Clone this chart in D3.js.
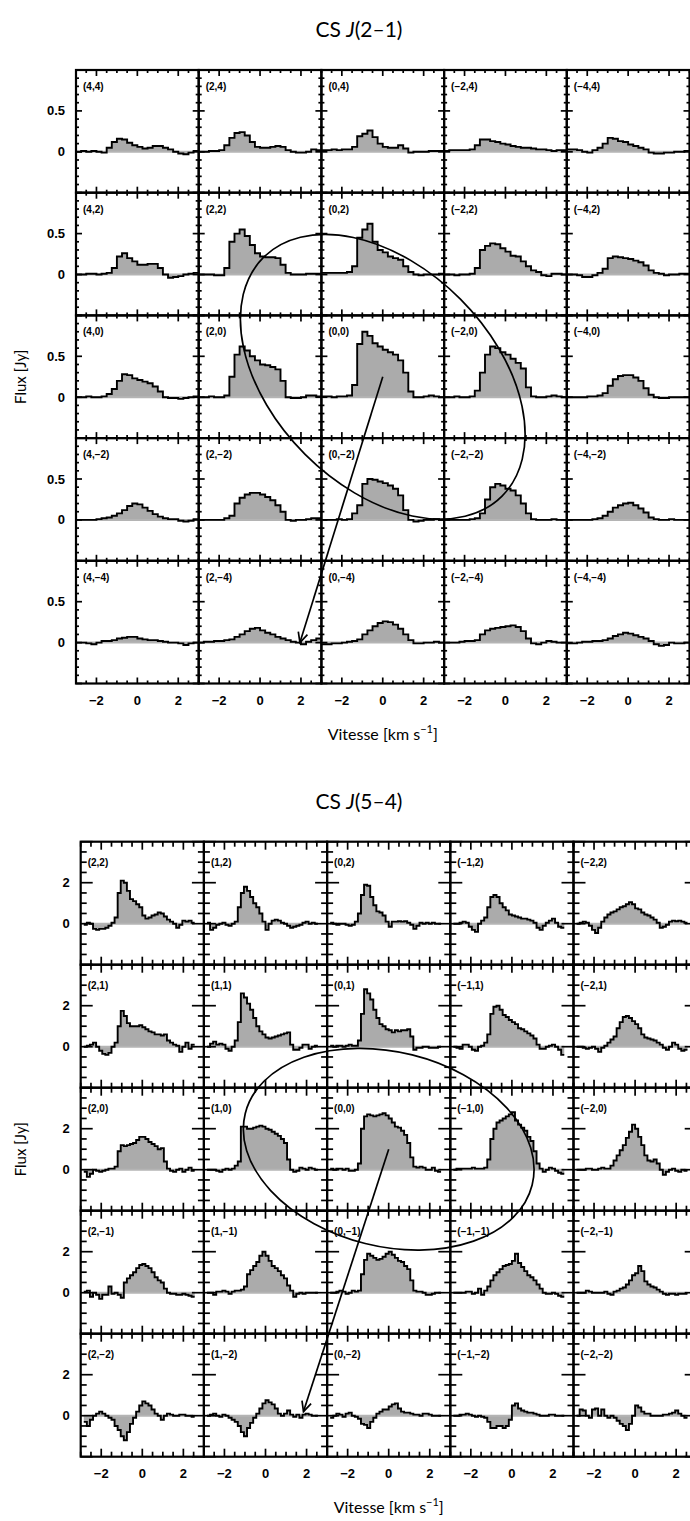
<!DOCTYPE html>
<html><head><meta charset="utf-8">
<script src="https://cdn.jsdelivr.net/npm/d3@7/dist/d3.min.js"></script>
<style>body{margin:0;background:#fff}svg{display:block}</style>
</head><body>
<svg id="c" width="690" height="1521"></svg>
<script>
// ---------------- DATA ----------------
// map offsets of the panels (columns: x offset, rows: y offset)
const offX21 = [4, 2, 0, -2, -4];
const offY21 = [4, 2, 0, -2, -4];
const offX54 = [2, 1, 0, -1, -2];
const offY54 = [2, 1, 0, -1, -2];
// velocity channels
const v0_21 = -3, dv21 = 0.25;     // 24 channels
const v0_54 = -2.85, dv54 = 0.15;  // 36 channels
// tick labels
const xTickLabels = [-2, 0, 2];
const yTickLabels21 = [0, 0.5];
const yTickLabels54 = [0, 2];

// CS J(2-1) spectra (Jy), one row of the map per array, columns ordered as offX21
const cs21_y4 = [
  [0.0,0.01,0.0,0.01,0.0,-0.01,0.05,0.12,0.16,0.15,0.11,0.08,0.06,0.04,0.05,0.07,0.07,0.05,0.03,0.0,-0.02,-0.03,-0.01,0.01],
  [0.0,0.0,0.01,0.01,0.02,0.08,0.17,0.23,0.24,0.2,0.12,0.06,0.05,0.05,0.06,0.07,0.06,0.02,0.0,-0.01,-0.01,0.0,0.03,0.02],
  [0.02,0.02,0.03,0.02,0.03,0.03,0.06,0.19,0.22,0.26,0.18,0.1,0.06,0.05,0.05,0.08,0.04,-0.01,0.0,0.0,0.0,0.01,0.01,0.01],
  [0.01,0.02,0.02,0.02,0.02,0.03,0.08,0.15,0.15,0.13,0.12,0.1,0.09,0.07,0.06,0.05,0.05,0.04,0.03,0.03,0.02,0.01,0.02,0.02],
  [0.03,0.03,0.02,0.0,-0.01,0.02,0.05,0.1,0.17,0.16,0.13,0.12,0.09,0.07,0.05,0.03,-0.01,-0.02,-0.02,-0.01,-0.01,0.0,0.0,0.01]
];
const cs21_y2 = [
  [0.0,0.0,0.01,0.01,0.0,0.01,0.02,0.08,0.22,0.26,0.2,0.16,0.12,0.12,0.13,0.13,0.08,0.0,-0.04,-0.03,-0.02,0.0,0.01,0.02],
  [0.0,0.0,0.0,-0.01,-0.01,0.08,0.4,0.5,0.55,0.47,0.36,0.26,0.22,0.21,0.21,0.2,0.12,0.02,0.0,0.0,0.0,0.01,0.01,0.01],
  [0.02,0.02,0.02,0.02,0.02,0.03,0.1,0.45,0.55,0.62,0.4,0.3,0.27,0.22,0.2,0.18,0.1,0.03,0.0,-0.01,0.0,0.0,0.0,0.01],
  [0.0,0.0,-0.01,0.0,0.0,0.01,0.08,0.3,0.35,0.38,0.37,0.32,0.28,0.23,0.22,0.16,0.1,0.05,0.03,-0.01,-0.02,0.01,0.01,0.0],
  [0.0,0.0,-0.01,-0.03,-0.03,-0.01,0.02,0.07,0.2,0.22,0.21,0.2,0.19,0.17,0.15,0.11,0.05,0.02,0.01,-0.01,0.0,0.0,0.01,0.01]
];
const cs21_y0 = [
  [0.0,0.0,0.01,0.0,0.0,0.01,0.04,0.1,0.2,0.28,0.27,0.23,0.21,0.19,0.17,0.13,0.07,0.0,-0.01,-0.01,-0.02,-0.01,0.0,0.01],
  [0.0,0.0,0.01,0.0,0.0,0.02,0.25,0.52,0.62,0.57,0.5,0.45,0.4,0.39,0.37,0.34,0.2,0.0,-0.01,-0.01,0.0,0.02,0.02,0.01],
  [0.01,0.01,0.0,0.01,0.01,0.02,0.15,0.65,0.8,0.75,0.66,0.62,0.58,0.55,0.52,0.45,0.3,0.07,0.0,0.0,0.01,0.02,0.01,0.0],
  [0.0,0.0,0.01,0.0,0.0,0.01,0.08,0.3,0.52,0.62,0.6,0.55,0.52,0.47,0.42,0.35,0.12,0.01,0.0,0.0,0.01,0.02,0.01,0.0],
  [0.0,0.0,0.0,0.0,0.01,0.01,0.02,0.05,0.14,0.22,0.26,0.27,0.27,0.24,0.2,0.11,0.03,0.0,-0.01,-0.01,0.0,0.0,0.0,0.0]
];
const cs21_ym2 = [
  [0.0,0.0,0.0,0.0,0.01,0.02,0.03,0.05,0.08,0.12,0.17,0.2,0.19,0.15,0.11,0.07,0.04,0.02,0.01,0.01,-0.01,-0.02,-0.01,0.01],
  [0.0,0.0,0.0,0.0,0.0,0.02,0.05,0.2,0.27,0.31,0.33,0.33,0.31,0.28,0.24,0.18,0.1,0.0,-0.01,0.0,0.0,0.01,0.02,0.02],
  [0.0,0.0,0.0,0.01,0.0,0.01,0.08,0.18,0.44,0.5,0.49,0.47,0.45,0.42,0.38,0.3,0.12,0.0,-0.02,-0.01,0.0,0.0,0.01,0.0],
  [0.0,0.0,0.0,0.0,0.0,0.01,0.02,0.08,0.25,0.4,0.44,0.42,0.38,0.36,0.3,0.2,0.08,0.01,0.0,0.0,0.0,0.01,0.0,0.0],
  [0.0,0.0,0.0,0.0,0.0,0.01,0.02,0.05,0.1,0.15,0.18,0.2,0.21,0.18,0.14,0.09,0.03,0.01,0.0,0.0,0.01,0.0,0.0,0.0]
];
const cs21_ym4 = [
  [0.0,0.0,-0.01,-0.02,0.0,0.02,0.02,0.03,0.05,0.06,0.07,0.07,0.05,0.04,0.03,0.03,0.02,0.01,0.0,0.0,-0.01,-0.03,-0.01,0.0],
  [0.0,0.01,0.01,0.02,0.02,0.03,0.04,0.07,0.1,0.14,0.17,0.18,0.15,0.12,0.1,0.07,0.05,0.03,0.01,0.0,-0.02,0.01,0.03,0.05],
  [-0.02,-0.02,-0.01,-0.01,0.0,0.01,0.02,0.04,0.1,0.15,0.2,0.24,0.26,0.25,0.22,0.17,0.1,0.03,-0.01,-0.01,0.0,0.0,0.01,0.0],
  [0.0,0.0,0.0,0.01,0.02,0.02,0.03,0.1,0.15,0.17,0.18,0.19,0.2,0.21,0.19,0.14,0.05,-0.01,-0.02,0.0,0.02,0.01,0.0,0.0],
  [-0.01,-0.01,0.0,0.01,0.01,0.02,0.02,0.03,0.05,0.08,0.1,0.12,0.11,0.09,0.07,0.05,0.02,-0.02,-0.04,-0.03,0.0,-0.01,-0.01,0.0]
];

// CS J(5-4) spectra (Jy), columns ordered as offX54
const cs54_y2 = [
  [-0.05,0.05,0.0,-0.25,-0.3,-0.25,-0.25,-0.2,-0.1,0.05,0.3,1.5,2.1,2.0,1.6,1.2,1.1,0.95,0.8,0.4,0.25,0.3,0.4,0.45,0.55,0.5,0.35,0.2,0.1,0.0,-0.2,-0.05,0.15,0.1,0.15,0.05],
  [0.05,-0.3,-0.2,-0.05,0.0,0.05,-0.05,-0.1,0.0,0.1,0.8,1.5,1.8,1.6,1.3,1.0,0.8,0.5,0.1,-0.3,0.0,0.15,0.2,0.15,0.05,0.0,-0.1,-0.2,-0.15,-0.1,-0.05,0.05,0.1,0.0,0.05,0.0],
  [0.05,0.0,-0.05,0.0,0.0,-0.05,-0.1,-0.05,0.1,0.5,1.4,1.9,1.85,1.3,0.9,0.6,0.55,0.4,0.1,-0.15,0.1,0.1,0.12,0.1,0.12,0.05,-0.05,-0.25,-0.1,0.05,0.0,0.05,0.0,0.05,0.0,0.0],
  [0.0,0.0,0.05,0.1,0.05,-0.15,-0.3,-0.4,0.0,0.15,0.3,0.8,1.3,1.4,1.3,1.0,0.8,0.65,0.45,0.4,0.35,0.3,0.25,0.25,0.2,0.15,0.05,-0.2,-0.3,-0.1,0.05,0.15,0.25,0.05,-0.15,-0.2],
  [0.0,0.05,0.1,0.05,-0.1,-0.3,-0.45,-0.2,0.1,0.3,0.45,0.55,0.6,0.7,0.8,0.85,0.95,1.05,0.95,0.75,0.7,0.55,0.45,0.4,0.3,0.2,0.05,-0.2,-0.15,-0.05,0.1,0.15,0.12,0.15,0.1,0.05]
];
const cs54_y1 = [
  [0.0,0.05,0.1,0.2,0.0,-0.2,-0.35,-0.4,-0.3,0.0,0.2,1.0,1.75,1.5,1.15,1.0,1.0,1.0,1.05,0.95,0.85,0.75,0.7,0.6,0.6,0.55,0.6,0.3,0.2,0.1,0.05,-0.25,0.0,0.2,-0.1,0.1],
  [0.0,0.15,0.25,0.1,0.15,0.1,-0.1,-0.2,0.0,0.3,1.2,2.6,2.4,2.1,1.8,1.4,1.0,0.75,0.6,0.45,0.4,0.45,0.5,0.55,0.6,0.65,0.7,0.1,-0.15,-0.15,-0.05,0.1,0.1,-0.1,0.0,0.05],
  [0.05,0.0,0.05,0.05,0.0,0.05,0.1,0.05,0.05,0.3,1.6,2.8,2.6,2.3,1.8,1.4,1.1,1.0,0.85,0.8,0.7,0.8,0.75,0.8,0.8,0.85,0.5,-0.15,-0.05,-0.05,0.0,0.0,-0.05,-0.05,-0.05,0.0],
  [0.0,-0.05,-0.1,0.1,0.1,0.0,-0.15,-0.2,0.0,0.05,0.2,0.6,1.6,1.95,2.0,1.8,1.55,1.45,1.3,1.2,1.1,0.9,0.85,0.75,0.65,0.55,0.4,0.1,-0.1,-0.1,0.0,0.05,0.1,0.0,-0.15,-0.4],
  [0.0,0.0,-0.05,-0.1,-0.05,0.0,-0.1,-0.25,-0.05,0.05,0.2,0.35,0.5,0.9,1.2,1.45,1.5,1.4,1.25,1.1,0.9,0.6,0.45,0.4,0.35,0.3,0.2,0.1,-0.05,-0.15,0.0,0.2,0.1,-0.1,-0.2,-0.15]
];
const cs54_y0 = [
  [-0.1,-0.35,-0.2,0.0,-0.05,-0.1,-0.05,0.0,0.05,0.05,0.15,0.9,1.2,1.15,1.2,1.25,1.3,1.45,1.6,1.6,1.5,1.35,1.25,1.15,1.0,1.05,0.4,0.05,-0.05,-0.1,0.0,0.05,-0.1,0.0,0.1,-0.05],
  [0.0,0.0,0.0,-0.05,-0.1,0.0,0.05,0.0,0.05,0.2,0.4,2.1,2.1,2.0,2.0,2.05,2.1,2.15,2.1,2.0,1.95,1.85,1.75,1.65,1.5,1.3,0.5,0.0,-0.1,-0.05,0.1,0.05,0.0,0.1,0.05,0.0],
  [0.05,0.0,0.05,0.05,0.0,0.05,-0.05,-0.05,0.0,0.3,2.0,2.6,2.7,2.65,2.6,2.65,2.7,2.75,2.65,2.5,2.3,2.1,2.05,1.9,1.7,1.3,0.6,0.15,0.1,0.15,0.1,0.0,0.0,0.1,-0.05,-0.1],
  [0.0,0.05,0.05,0.05,0.05,0.05,0.1,0.05,0.05,0.05,0.1,0.5,1.5,2.0,2.3,2.4,2.5,2.6,2.7,2.8,2.4,2.2,2.05,1.9,1.6,1.4,0.9,0.3,0.05,-0.1,0.0,0.1,0.05,-0.05,-0.15,-0.2],
  [0.0,0.0,0.0,0.05,0.05,0.0,0.0,0.05,0.1,0.05,0.05,0.2,0.45,0.7,0.95,1.2,1.55,1.85,2.2,2.0,1.6,1.2,0.7,0.45,0.4,0.5,0.3,0.0,-0.25,-0.1,0.0,0.05,-0.05,-0.1,0.0,-0.05]
];
const cs54_ym1 = [
  [0.05,0.1,-0.2,0.0,-0.1,-0.3,-0.1,-0.1,0.3,-0.05,0.0,-0.1,-0.25,0.5,0.7,0.85,1.0,1.2,1.35,1.4,1.3,1.2,1.0,0.75,0.6,0.5,0.2,0.0,-0.05,-0.05,-0.1,-0.1,-0.05,-0.1,-0.15,-0.2],
  [0.0,0.0,-0.1,0.05,0.05,0.1,0.05,-0.05,0.05,0.1,0.1,0.15,0.3,0.9,1.1,1.3,1.5,1.8,2.0,1.8,1.55,1.3,1.2,1.05,0.85,0.7,0.35,0.1,-0.2,-0.05,0.0,-0.05,0.0,0.0,0.0,0.0],
  [0.0,0.0,0.05,0.1,0.05,-0.05,0.0,0.1,0.05,0.1,0.9,1.6,1.9,1.8,1.7,1.6,1.65,1.75,1.9,2.0,1.85,1.7,1.55,1.5,1.3,1.15,0.6,0.1,0.05,0.05,0.0,-0.1,-0.1,-0.05,0.0,0.0],
  [0.0,0.0,0.0,0.0,0.05,0.05,-0.05,0.0,0.2,-0.1,0.1,0.3,0.6,0.85,1.0,1.15,1.3,1.35,1.4,1.55,1.9,1.45,1.25,1.05,0.85,0.75,0.6,0.4,0.2,0.0,-0.05,-0.05,0.0,-0.05,-0.15,-0.2],
  [0.0,0.0,0.0,0.1,0.05,0.0,0.0,0.0,0.0,0.05,-0.05,-0.1,0.05,0.1,0.2,0.25,0.4,0.6,0.85,0.95,1.3,1.05,0.55,0.4,0.3,0.25,0.15,0.05,-0.05,-0.1,-0.05,-0.05,-0.1,-0.05,-0.05,-0.05]
];
const cs54_ym2 = [
  [-0.3,-0.5,-0.2,0.0,0.1,0.2,0.1,0.0,-0.1,-0.2,-0.5,-0.7,-1.0,-1.2,-0.8,-0.4,-0.1,0.2,0.5,0.7,0.6,0.5,0.3,0.1,0.0,-0.2,0.0,0.1,0.05,0.0,0.0,0.05,0.05,0.0,0.0,-0.05],
  [0.0,0.05,0.1,0.0,-0.05,0.05,0.0,-0.1,-0.2,-0.3,-0.5,-0.8,-1.0,-0.6,-0.35,-0.1,0.1,0.35,0.6,0.75,0.65,0.55,0.35,0.1,0.0,0.1,0.25,0.05,-0.05,0.05,-0.1,0.05,0.1,0.05,0.0,0.0],
  [-0.1,0.0,0.1,0.05,-0.05,0.1,0.15,0.0,-0.05,-0.15,-0.4,-0.45,-0.6,-0.3,-0.1,0.1,0.2,0.3,0.3,0.45,0.55,0.6,0.35,0.2,0.15,0.15,0.1,0.05,0.05,0.0,0.1,0.1,0.05,0.0,0.0,0.0],
  [0.0,0.0,0.05,0.05,0.1,0.05,0.0,-0.05,0.0,-0.05,-0.1,-0.3,-0.6,-0.6,-0.5,-0.5,-0.6,-0.5,-0.2,0.5,0.6,0.35,0.25,0.2,0.15,0.15,0.1,0.05,0.0,0.0,0.0,0.05,0.05,0.0,0.0,0.0],
  [0.0,0.3,0.25,0.0,-0.1,0.3,0.35,0.0,0.3,0.0,-0.1,0.0,-0.1,-0.25,-0.4,-0.5,-0.7,-0.4,0.0,0.5,0.4,0.2,0.1,0.1,0.0,0.0,0.0,0.0,0.05,0.05,0.1,0.15,0.25,0.1,0.0,-0.1]
];

// annotations: ellipse [centre x off, centre y off, semi-major, semi-minor, tilt deg]
const ellipse21 = [0, 0, 2.75, 1.79, 45];
const ellipse54 = [0, 0, 1.20, 0.79, 14];
// arrow: from map offset (x,y) to panel (ox,oy) at (velocity, flux)
const arrow21 = [0, 0, 2, -4, 1.95, 0.0];
const arrow54 = [0, 0, 1, -2, 1.85, 0.2];

// ---------------- DRAWING ----------------
const svg = d3.select('#c');
const fmt = v => String(v).replace('-', '\u2212');

function drawGrid(cfg) {
  const {id, left, top, pw, ph, rows, offX, offY, v0, dv, yDom, yMaj, yMin, xMaj, xMin, tl, yLabels, labelDy} = cfg;
  const x = d3.scaleLinear().domain([-3, 3]).range([0, pw]);
  const y = d3.scaleLinear().domain(yDom).range([ph, 0]);
  const isMul = (v, s) => Math.abs(v / s - Math.round(v / s)) < 1e-6;
  const yT = d3.range(Math.ceil(yDom[0] / yMin), Math.floor(yDom[1] / yMin) + 1).map(i => +(i * yMin).toFixed(4));
  const xT = d3.range(Math.ceil(-3 / xMin), Math.floor(3 / xMin) + 1).map(i => +(i * xMin).toFixed(4));

  rows.forEach((row, r) => row.forEach((vals, c) => {
    const g = svg.append('g').attr('transform', `translate(${left + c * pw},${top + r * ph})`);
    const cid = `clip-${id}-${r}-${c}`;
    g.append('clipPath').attr('id', cid).append('rect').attr('width', pw).attr('height', ph);
    const inner = g.append('g').attr('clip-path', `url(#${cid})`);
    const pts = vals.map((f, i) => [v0 + i * dv, f]);
    pts.push([v0 + vals.length * dv, vals[vals.length - 1]]);
    inner.append('path').datum(pts)
      .attr('d', d3.area().x(d => x(d[0])).y0(y(0)).y1(d => y(d[1])).curve(d3.curveStepAfter))
      .attr('fill', '#ababab');
    inner.append('line').attr('x1', x(v0)).attr('x2', x(v0 + vals.length * dv))
      .attr('y1', y(0)).attr('y2', y(0)).attr('stroke', '#b4b4b4').attr('stroke-width', 2);
    inner.append('path').datum(pts)
      .attr('d', d3.line().x(d => x(d[0])).y(d => y(d[1])).curve(d3.curveStepAfter))
      .attr('fill', 'none').attr('stroke', '#000').attr('stroke-width', 1.9).attr('stroke-linejoin', 'miter');

    const tk = g.append('g').attr('stroke', '#000').attr('stroke-width', 1.7);
    yT.forEach(v => {
      const L = isMul(v, yMaj) ? tl.yMaj : tl.yMin;
      tk.append('line').attr('x1', 0).attr('x2', L).attr('y1', y(v)).attr('y2', y(v));
      tk.append('line').attr('x1', pw).attr('x2', pw - L).attr('y1', y(v)).attr('y2', y(v));
    });
    xT.forEach(v => {
      const L = isMul(v, xMaj) ? tl.xMaj : tl.xMin;
      tk.append('line').attr('x1', x(v)).attr('x2', x(v)).attr('y1', ph).attr('y2', ph - L);
      tk.append('line').attr('x1', x(v)).attr('x2', x(v)).attr('y1', 0).attr('y2', L);
    });
    g.append('rect').attr('width', pw).attr('height', ph)
      .attr('fill', 'none').attr('stroke', '#000').attr('stroke-width', 2.2);
    g.append('text').attr('x', 7).attr('y', labelDy)
      .attr('font-family', 'Liberation Sans, Arial, sans-serif').attr('font-weight', 'bold')
      .attr('font-size', 10).text(`(${fmt(offX[c])},${fmt(offY[r])})`);
  }));

  // y tick labels on the left column
  rows.forEach((row, r) => yLabels.forEach(v => {
    svg.append('text').attr('x', left - 11).attr('y', top + r * ph + y(v) + 4.5)
      .attr('text-anchor', 'end').attr('font-family', 'Liberation Sans, Arial, sans-serif')
      .attr('font-weight', 'bold').attr('font-size', 13).text(fmt(v));
  }));
  // x tick labels under bottom row
  d3.range(5).forEach(c => xTickLabels.forEach(v => {
    svg.append('text').attr('x', left + c * pw + x(v)).attr('y', top + 5 * ph + 21)
      .attr('text-anchor', 'middle').attr('font-family', 'Liberation Sans, Arial, sans-serif')
      .attr('font-weight', 'bold').attr('font-size', 13).text(fmt(v));
  }));
  return {x, y};
}

function overlay(cfg, sc, ell, arr) {
  const {left, top, pw, ph, offX, offY} = cfg;
  const mx = d3.scaleLinear().domain([offX[0], offX[4]]).range([left + pw / 2, left + 4.5 * pw]);
  const my = d3.scaleLinear().domain([offY[0], offY[4]]).range([top + ph / 2, top + 4.5 * ph]);
  const cx = mx(ell[0]), cy = my(ell[1]);
  svg.append('ellipse').attr('cx', cx).attr('cy', cy)
    .attr('rx', Math.abs(mx(ell[0] + ell[2]) - cx)).attr('ry', Math.abs(my(ell[1] + ell[3]) - cy))
    .attr('transform', `rotate(${ell[4]},${cx},${cy})`)
    .attr('fill', 'none').attr('stroke', '#000').attr('stroke-width', 1.7);
  const x0 = mx(arr[0]), y0 = my(arr[1]);
  const col = offX.indexOf(arr[2]), row = offY.indexOf(arr[3]);
  const x1 = left + col * pw + sc.x(arr[4]), y1 = top + row * ph + sc.y(arr[5]);
  const a = Math.atan2(y1 - y0, x1 - x0), hl = 11, ha = 0.45;
  const g = svg.append('g').attr('stroke', '#000').attr('stroke-width', 1.7).attr('fill', 'none');
  g.append('line').attr('x1', x0).attr('y1', y0).attr('x2', x1).attr('y2', y1);
  g.append('path').attr('d', `M${x1 - hl * Math.cos(a - ha)},${y1 - hl * Math.sin(a - ha)}L${x1},${y1}L${x1 - hl * Math.cos(a + ha)},${y1 - hl * Math.sin(a + ha)}`);
}

function titles(cx, ty, line, gridTop, gridBottom, gridMidX) {
  const t = svg.append('text').attr('x', cx).attr('y', ty).attr('text-anchor', 'middle')
    .attr('font-family', 'Lato, Open Sans, sans-serif').attr('font-size', 21);
  t.append('tspan').text('CS ');
  t.append('tspan').attr('font-style', 'italic').text('J');
  t.append('tspan').text(line);
  svg.append('text').attr('transform', `translate(26,${(gridTop + gridBottom) / 2}) rotate(-90)`)
    .attr('text-anchor', 'middle').attr('font-family', 'Lato, Open Sans, sans-serif')
    .attr('font-size', 15).text('Flux [Jy]');
  const v = svg.append('text').attr('x', gridMidX).attr('y', gridBottom + 56).attr('text-anchor', 'middle')
    .attr('font-family', 'Lato, Open Sans, sans-serif').attr('font-size', 16);
  v.append('tspan').text('Vitesse [km s');
  v.append('tspan').attr('dy', -7).attr('font-size', 11).text('\u22121');
  v.append('tspan').attr('dy', 7).text(']');
}

const cfg21 = {id: 'a', left: 76, top: 70, pw: 122.7, ph: 122.7,
  rows: [cs21_y4, cs21_y2, cs21_y0, cs21_ym2, cs21_ym4], offX: offX21, offY: offY21,
  v0: v0_21, dv: dv21, yDom: [-0.5, 1.0], yMaj: 0.5, yMin: 0.1, xMaj: 2, xMin: 0.5,
  tl: {yMaj: 6, yMin: 3, xMaj: 6, xMin: 3}, yLabels: yTickLabels21, labelDy: 20};
const cfg54 = {id: 'b', left: 80.7, top: 841.7, pw: 123.2, ph: 123,
  rows: [cs54_y2, cs54_y1, cs54_y0, cs54_ym1, cs54_ym2], offX: offX54, offY: offY54,
  v0: v0_54, dv: dv54, yDom: [-2, 4], yMaj: 2, yMin: 0.5, xMaj: 2, xMin: 0.5,
  tl: {yMaj: 12, yMin: 6, xMaj: 8, xMin: 5}, yLabels: yTickLabels54, labelDy: 24};

const s21 = drawGrid(cfg21);
overlay(cfg21, s21, ellipse21, arrow21);
titles(359, 37, '(2\u20131)', 70, 70 + 5 * 122.7, 76 + 2.5 * 122.7);

const s54 = drawGrid(cfg54);
overlay(cfg54, s54, ellipse54, arrow54);
titles(359, 809, '(5\u20134)', 841.7, 841.7 + 5 * 123, 80.7 + 2.5 * 123.2);
</script>
</body></html>
